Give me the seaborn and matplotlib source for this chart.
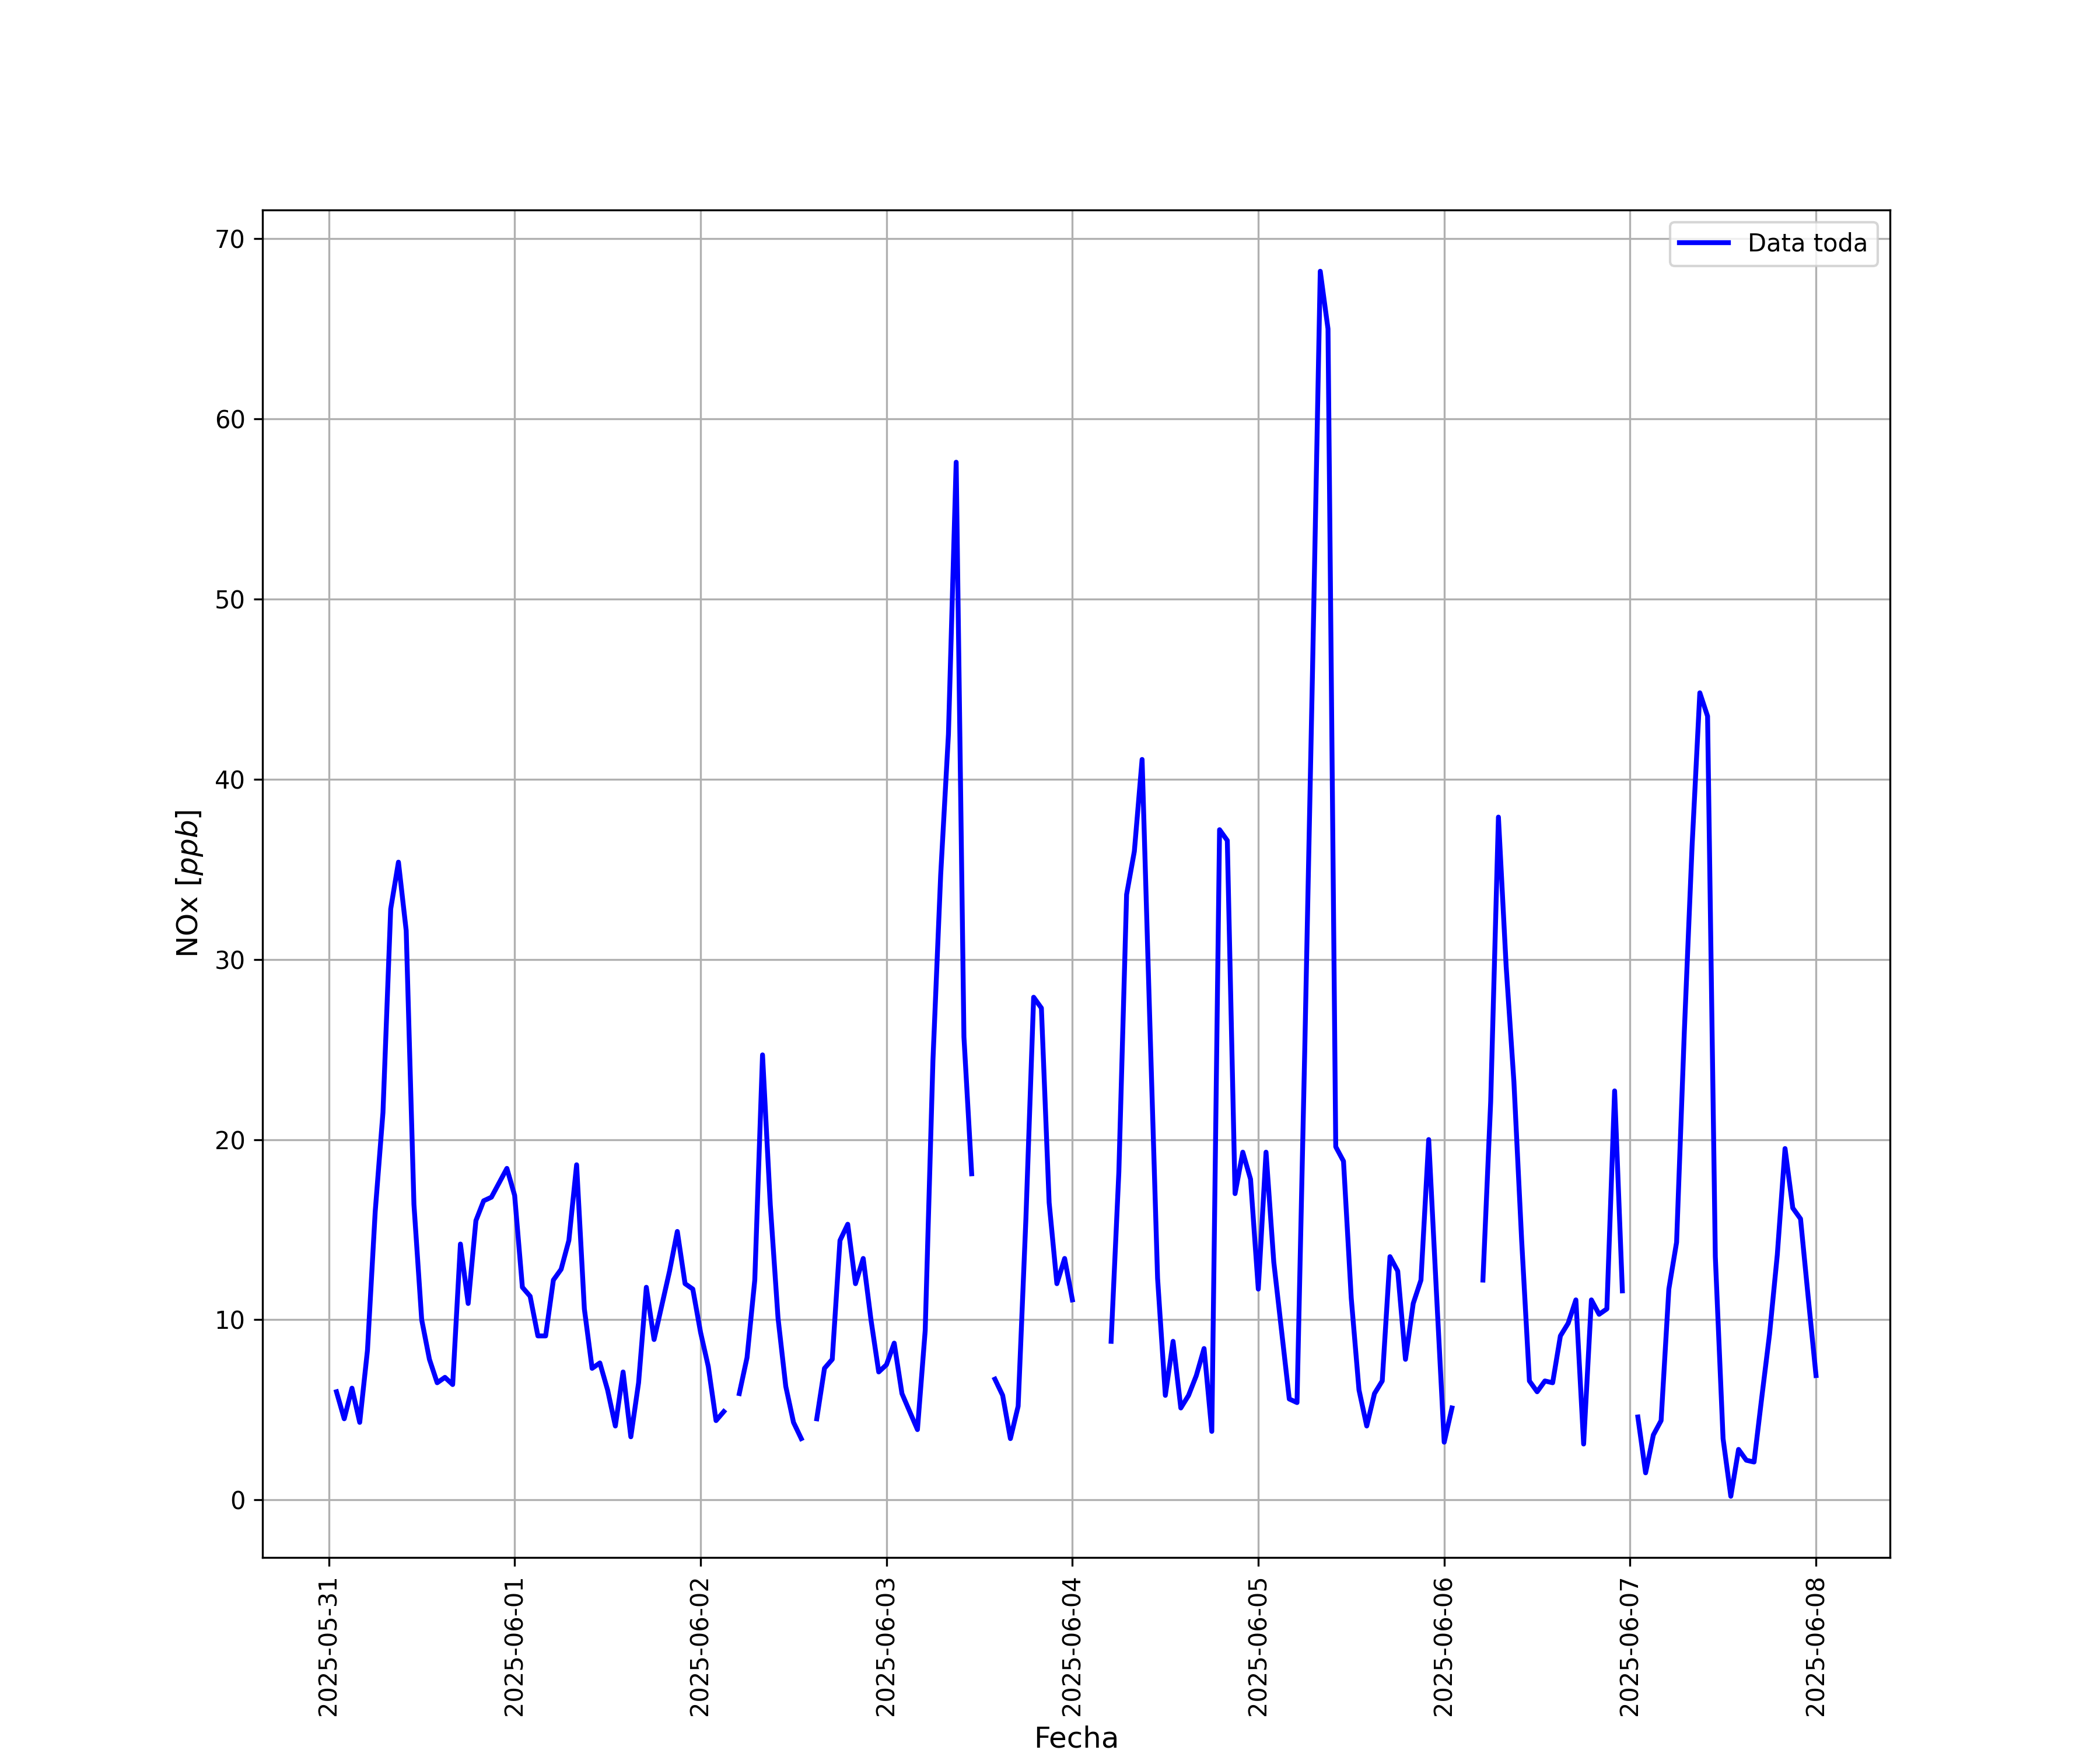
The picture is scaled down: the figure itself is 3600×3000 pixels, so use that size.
import pandas as pd
import numpy as np
import seaborn as sns
import matplotlib.pyplot as plt
import matplotlib.dates as mdates

# hourly NOx values (ppb), 01:00 ... 24:00 of each day; None = no data
d0531 = [6.0, 4.5, 6.2, 4.3, 8.3, 16.0, 21.5, 32.8, 35.4, 31.6, 16.4, 10.0,
         7.8, 6.5, 6.8, 6.4, 14.2, 10.9, 15.5, 16.6, 16.8, 17.6, 18.4, 16.9]
d0601 = [11.8, 11.3, 9.1, 9.1, 12.2, 12.8, 14.4, 18.6, 10.6, 7.3, 7.6, 6.1,
         4.1, 7.1, 3.5, 6.5, 11.8, 8.9, 10.8, 12.7, 14.9, 12.0, 11.7, 9.3]
d0602 = [7.4, 4.4, 4.9, None, 5.9, 7.9, 12.2, 24.7, 16.4, 10.1, 6.3, 4.3,
         3.4, None, 4.5, 7.3, 7.8, 14.4, 15.3, 12.0, 13.4, 10.0, 7.1, 7.5]
d0603 = [8.7, 5.9, 4.9, 3.9, 9.4, 24.4, 34.7, 42.5, 57.6, 25.7, 18.1, None,
         None, 6.7, 5.8, 3.4, 5.2, 15.6, 27.9, 27.3, 16.5, 12.0, 13.4, 11.1]
d0604 = [None, None, None, None, 8.8, 18.2, 33.6, 36.0, 41.1, 26.5, 12.3, 5.8,
         8.8, 5.1, 5.8, 6.9, 8.4, 3.8, 37.2, 36.6, 17.0, 19.3, 17.8, 11.7]
d0605 = [19.3, 13.2, 9.4, 5.6, 5.4, 25.0, 46.0, 68.2, 65.0, 19.6, 18.8, 11.2,
         6.1, 4.1, 5.9, 6.6, 13.5, 12.7, 7.8, 10.9, 12.2, 20.0, 11.5, 3.2]
d0606 = [5.1, None, None, None, 12.2, 22.1, 37.9, 29.6, 23.2, 14.4, 6.6, 6.0,
         6.6, 6.5, 9.1, 9.8, 11.1, 3.1, 11.1, 10.3, 10.6, 22.7, 11.6, None]
d0607 = [4.6, 1.5, 3.6, 4.4, 11.7, 14.3, 26.0, 36.3, 44.8, 43.5, 13.5, 3.4,
         0.2, 2.8, 2.2, 2.1, 5.7, 9.2, 13.6, 19.5, 16.2, 15.6, 11.2, 6.9]

dias = [d0531, d0601, d0602, d0603, d0604, d0605, d0606, d0607]
valores = [v for d in dias for v in d]
fechas = pd.date_range('2025-05-31 01:00', periods=len(valores), freq='h')

df = pd.DataFrame({'Fecha': fechas, 'NOx': pd.to_numeric(pd.Series(valores), errors='coerce')})
# tramo continuo entre huecos, para que la linea se corte donde no hay datos
df['tramo'] = df['NOx'].isna().cumsum()
df = df.dropna()

fig, ax = plt.subplots(figsize=(12, 10))
sns.lineplot(data=df, x='Fecha', y='NOx', units='tramo', estimator=None,
             color='blue', linewidth=2, label='Data toda', ax=ax)

handles, labels = ax.get_legend_handles_labels()
ax.legend(handles[:1], labels[:1], loc='upper right')

ax.xaxis.set_major_locator(mdates.DayLocator())
ax.xaxis.set_major_formatter(mdates.DateFormatter('%Y-%m-%d'))
plt.xticks(rotation=90)
ax.grid(True)
ax.set_xlabel('Fecha', fontsize=12)
ax.set_ylabel('NOx [$ppb$]', fontsize=12)

plt.savefig('out.png', dpi=300)
